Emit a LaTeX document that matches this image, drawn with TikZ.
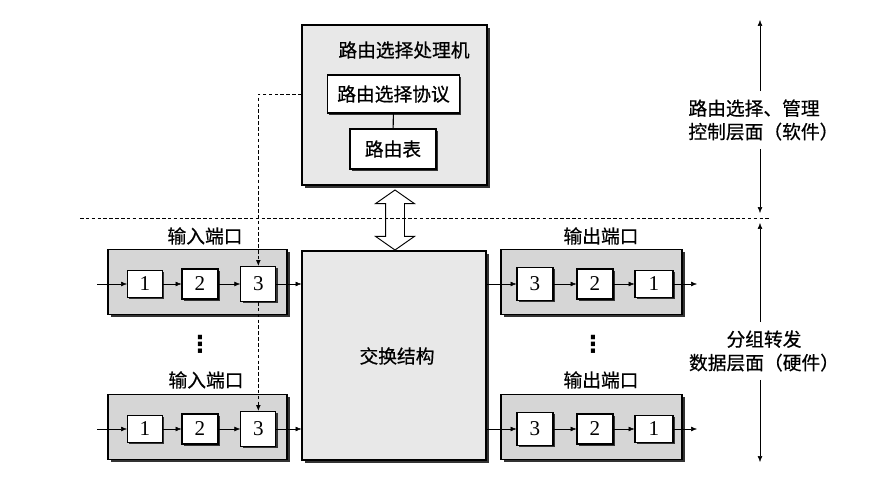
\documentclass[tikz,border=0pt]{standalone}
\usepackage{fontspec}
\usepackage{tikz}
\usetikzlibrary{shadows,shapes.arrows,arrows.meta}
\newfontfamily\cjk[FakeBold=0.6]{Noto Sans CJK SC}
\newfontfamily\digits{Liberation Serif}
\newfontfamily\symb{DejaVu Sans}

\begin{document}
\begin{tikzpicture}[x=0.03cm,y=-0.03cm,>={Latex[length=5pt,width=4pt]}]
\tikzstyle{portbox}=[draw, line width=0.9pt, fill=gray!32, drop shadow={shadow xshift=2.5pt, shadow yshift=-2.5pt, opacity=1, fill=black!80}]
\tikzstyle{bigbox}=[draw, line width=0.9pt, fill=gray!18, drop shadow={shadow xshift=2.5pt, shadow yshift=-2.5pt, opacity=1, fill=black!80}]
\tikzstyle{qbox}=[draw, line width=0.9pt, fill=white, inner sep=0pt, font=\digits\fontsize{18}{20}\selectfont, drop shadow={shadow xshift=1.5pt, shadow yshift=-1.5pt, opacity=1, fill=black!80}]
\tikzstyle{lbl}=[font=\cjk\fontsize{16}{20}\selectfont]
\tikzstyle{sep}=[densely dashed, line width=0.6pt]
\tikzstyle{dots}=[font=\symb\bfseries\fontsize{20}{22}\selectfont]
\useasboundingbox (0,0) rectangle (882,494);

% control plane
\node (proc) [bigbox, minimum width=5.55cm, minimum height=4.8cm] at (394.5,105) {};
\node (title) [lbl] at (404,50) {路由选择处理机};
\node (proto) [qbox, lbl, inner sep=0pt, minimum width=3.96cm, minimum height=1.14cm] at (393.5,94) {路由选择协议};
\node (tbl) [qbox, lbl, inner sep=0pt, minimum width=2.58cm, minimum height=1.2cm] at (393,149) {路由表};
\draw[line width=0.9pt] (proto) -- (tbl);

% switching fabric
\node (fab) [bigbox, minimum width=5.52cm, minimum height=6.27cm] at (394,355.5) {};
\node (fabt) [lbl] at (397,356) {交换结构};
\node (bus) [double arrow, draw, line width=0.8pt, fill=white, rotate=90, minimum height=1.8cm, inner xsep=0pt, inner ysep=0.27cm, double arrow head extend=0.3cm, double arrow tip angle=110] at (395,220) {};

% separator
\coordinate (sepL) at (80,218);
\coordinate (sepR) at (770,218);
\draw[sep] (sepL) -- (sepR);

% input ports
\node (pi1) [portbox, minimum width=5.37cm, minimum height=1.95cm] at (197.5,282) {};
\node (li1) [lbl] at (205,236) {输入端口};
\node (ia1) [qbox, minimum width=1.05cm, minimum height=0.81cm] at (145,284) {1};
\node (ia2) [right of=ia1, node distance=1.65cm, qbox, minimum width=1.08cm, minimum height=0.9cm] {2};
\node (ia3) [right of=ia2, node distance=1.75cm, qbox, minimum width=1.05cm, minimum height=1.05cm] {3};
\coordinate (ia0) at (97,284);

\node (di) [dots] at (200,344) {⋮};

\node (pi2) [portbox, minimum width=5.37cm, minimum height=1.95cm] at (197.5,427) {};
\node (li2) [lbl] at (206,380) {输入端口};
\node (ib1) [qbox, minimum width=1.05cm, minimum height=0.81cm] at (145,429) {1};
\node (ib2) [right of=ib1, node distance=1.65cm, qbox, minimum width=1.08cm, minimum height=0.9cm] {2};
\node (ib3) [right of=ib2, node distance=1.75cm, qbox, minimum width=1.05cm, minimum height=1.05cm] {3};
\coordinate (ib0) at (97,429);

\path[->] (ia0) edge (ia1) (ia1) edge (ia2) (ia2) edge (ia3) (ia3) edge (ia3 -| fab.west);
\path[->] (ib0) edge (ib1) (ib1) edge (ib2) (ib2) edge (ib3) (ib3) edge (ib3 -| fab.west);

\draw[sep,->] (proc.west |- proto) -| (ia3.north);
\draw[sep,->] (ia3.south) -- (ib3.north);

% output ports
\node (po1) [portbox, minimum width=5.43cm, minimum height=1.95cm] at (591.5,282) {};
\node (lo1) [lbl] at (601,236) {输出端口};
\node (oa3) [qbox, minimum width=1.08cm, minimum height=0.99cm] at (535,284) {3};
\node (oa2) [right of=oa3, node distance=1.8cm, qbox, minimum width=1.08cm, minimum height=0.9cm] {2};
\node (oa1) [right of=oa2, node distance=1.77cm, qbox, minimum width=1.14cm, minimum height=0.81cm] {1};
\coordinate (oa0) at (697,284);

\node (do) [dots] at (593,344) {⋮};

\node (po2) [portbox, minimum width=5.43cm, minimum height=1.95cm] at (591.5,427) {};
\node (lo2) [lbl] at (601,380) {输出端口};
\node (ob3) [qbox, minimum width=1.08cm, minimum height=0.99cm] at (535,429) {3};
\node (ob2) [right of=ob3, node distance=1.8cm, qbox, minimum width=1.08cm, minimum height=0.9cm] {2};
\node (ob1) [right of=ob2, node distance=1.77cm, qbox, minimum width=1.14cm, minimum height=0.81cm] {1};
\coordinate (ob0) at (697,429);

\path[->] (oa3 -| fab.east) edge (oa3) (oa3) edge (oa2) (oa2) edge (oa1) (oa1) edge (oa0);
\path[->] (ob3 -| fab.east) edge (ob3) (ob3) edge (ob2) (ob2) edge (ob1) (ob1) edge (ob0);

% planes
\coordinate (t1) at (760,20);
\coordinate (t2) at (760,213);
\coordinate (t3) at (760,223);
\coordinate (t4) at (760,462);
\node (ctl) [lbl, align=left, anchor=west, inner sep=7pt] at (680,120) {路由选择、管理\\控制层面（软件）};
\node (dat) [lbl, align=center, inner sep=7pt] at (764,351) {分组转发\\数据层面（硬件）};
\draw[->] (t1 |- ctl.north) -- (t1);
\draw[->] (t1 |- ctl.south) -- (t2);
\draw[->] (t1 |- dat.north) -- (t3);
\draw[->] (t1 |- dat.south) -- (t4);
\end{tikzpicture}
\end{document}
